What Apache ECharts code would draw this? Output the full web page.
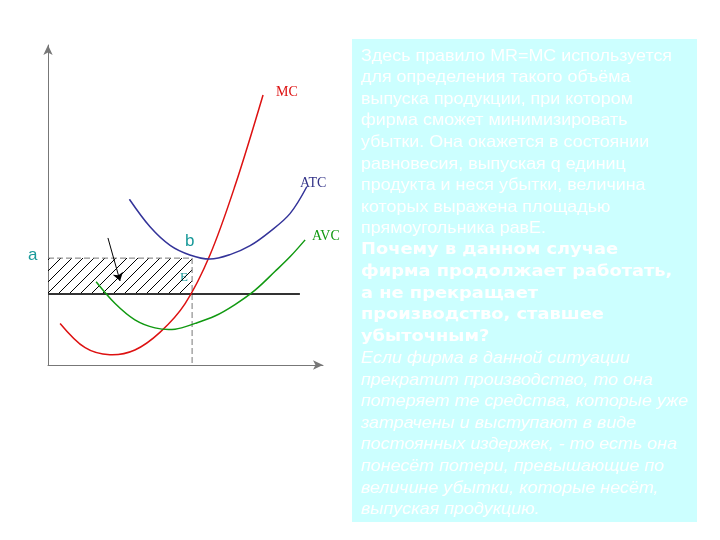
<!DOCTYPE html>
<html><head><meta charset="utf-8">
<script src="https://cdn.jsdelivr.net/npm/echarts@6/dist/echarts.min.js"></script>
<style>html,body{margin:0;padding:0;background:#fff}#c{width:720px;height:540px}</style>
</head><body><div id="c"></div>
<script>
// Curve data (x = quantity, y = cost)
const mcData = [[4.4,13.0],[13.5,5.4],[22.5,3.2],[31.6,4.7],[40.7,10.2],[49.8,19.1],[58.9,34.4],[68.0,56.0],[78.2,84.4]];
const atcData = [[29.6,51.8],[37.1,43.2],[44.4,37.4],[51.6,34.4],[58.9,33.1],[66.2,34.5],[73.5,37.3],[80.7,41.7],[88.0,47.3],[94.1,55.7]];
const avcData = [[17.5,26.0],[24.4,19.2],[31.6,14.1],[38.9,11.6],[46.2,11.2],[53.5,13.0],[60.7,15.3],[68.0,18.9],[75.3,23.4],[82.5,29.2],[88.0,33.8],[93.5,39.1]];
const priceLevel = 22.2;   // horizontal price line (MR = P)
const priceEnd = 91.6;
const atcLevel = 33.4;     // point a / b level
const qEq = 52.4;          // equilibrium quantity (E)
const arrowFrom = [21.8, 39.7];
const arrowTo = [26.2, 26.25];

const normalLines = ["Здесь правило MR=MC используется","для определения такого объёма","выпуска продукции, при котором","фирма сможет минимизировать","убытки. Она окажется в состоянии","равновесия, выпуская q единиц","продукта и неся убытки, величина","которых выражена площадью","прямоугольника равЕ."];
const boldLines = ["Почему в данном случае","фирма продолжает работать,","а не прекращает","производство, ставшее","убыточным?"];
const italicLines = ["Если фирма в данной ситуации","прекратит производство, то она","потеряет те средства, которые уже","затрачены и выступают в виде","постоянных издержек, - то есть она","понесёт потери, превышающие по","величине убытки, которые несёт,","выпуская продукцию."];

// hatch pattern
const pc = document.createElement('canvas');
pc.width = 11; pc.height = 11;
const g = pc.getContext('2d');
g.strokeStyle = '#000'; g.lineWidth = 1;
g.beginPath(); g.moveTo(0,11); g.lineTo(11,0); g.moveTo(-1,1); g.lineTo(1,-1); g.moveTo(10,12); g.lineTo(12,10); g.stroke();

const chart = echarts.init(document.getElementById('c'), null, {renderer:'canvas'});

const graphics = [];
graphics.push({type:'rect', shape:{x:352,y:39,width:345,height:483}, style:{fill:'#ccffff'}, z:0});
let li = 0;
const lineY = i => 56 + i*21.6;
normalLines.forEach(t => { graphics.push({type:'text', x:361, y:lineY(li++), scaleX:1.085, style:{text:t, fill:'#ffffff', font:'16.5px "Liberation Sans"', verticalAlign:'middle', align:'left'}}); });
boldLines.forEach(t => { graphics.push({type:'text', x:361, y:lineY(li++), scaleX:1.15, style:{text:t, fill:'#ffffff', font:'bold 15.5px "DejaVu Sans"', verticalAlign:'middle', align:'left'}}); });
italicLines.forEach(t => { graphics.push({type:'text', x:361, y:lineY(li++), scaleX:1.085, style:{text:t, fill:'#ffffff', font:'italic 16.5px "Liberation Sans"', verticalAlign:'middle', align:'left'}}); });

// curve labels
graphics.push({type:'text', x:276, y:92, style:{text:'MC', fill:'#dd1111', font:'14px "Liberation Serif"', verticalAlign:'middle'}});
graphics.push({type:'text', x:300, y:183, style:{text:'ATC', fill:'#333388', font:'14px "Liberation Serif"', verticalAlign:'middle'}});
graphics.push({type:'text', x:312, y:236, style:{text:'AVC', fill:'#119911', font:'14px "Liberation Serif"', verticalAlign:'middle'}});
graphics.push({type:'text', x:28, y:255, style:{text:'a', fill:'#1a9a9a', font:'17px "Liberation Sans"', verticalAlign:'middle'}});
graphics.push({type:'text', x:185, y:241, style:{text:'b', fill:'#1a9a9a', font:'17px "Liberation Sans"', verticalAlign:'middle'}});
graphics.push({type:'text', x:180, y:278, style:{text:'E', fill:'#1a9a9a', font:'13px "Liberation Serif"', verticalAlign:'middle'}});

const axisCommon = {type:'value', min:0, max:100, axisLabel:{show:false}, axisTick:{show:false}, splitLine:{show:false},
  axisLine:{show:true, symbol:['none','arrow'], symbolSize:[7,10], lineStyle:{color:'#777', width:1}}};

// smooth curve drawn through the axis scales
function curve(name, pts, color) {
  return {type:'custom', name:name, z:4, data:pts,
    renderItem:(params, api) => {
      if (params.dataIndex !== 0) return null;
      const points = pts.map(p => api.coord(p));
      return {type:'polyline', shape:{points:points, smooth:0.35}, style:{stroke:color, lineWidth:1.5, fill:null}};
    }};
}

chart.setOption({
  animation:false,
  grid:{left:48, top:45, width:275, height:320},
  xAxis:Object.assign({}, axisCommon),
  yAxis:Object.assign({}, axisCommon),
  graphic:graphics,
  series:[
    {type:'custom', z:1, renderItem:(params, api) => {
      const p1 = api.coord([0, atcLevel]);
      const p2 = api.coord([qEq, priceLevel]);
      return {type:'rect', shape:{x:p1[0], y:p1[1], width:p2[0]-p1[0], height:p2[1]-p1[1]}, style:{fill:{image:pc, repeat:'repeat'}}};
    }, data:[[0,0]]},
    {type:'line', data:[[0,atcLevel],[qEq,atcLevel],[qEq,0]], showSymbol:false, lineStyle:{color:'#777', width:1, type:[6,3]}, z:2},
    {type:'line', data:[[0,priceLevel],[priceEnd,priceLevel]], showSymbol:false, lineStyle:{color:'#333', width:2}, z:3,
      markLine:{silent:true, symbol:['none','arrow'], symbolSize:8, label:{show:false}, lineStyle:{color:'#000', width:1, type:'solid'},
        data:[[{coord:arrowFrom},{coord:arrowTo}]]}},
    curve('MC', mcData, '#dd1111'),
    curve('ATC', atcData, '#333399'),
    curve('AVC', avcData, '#119911')
  ]
});
</script></body></html>
